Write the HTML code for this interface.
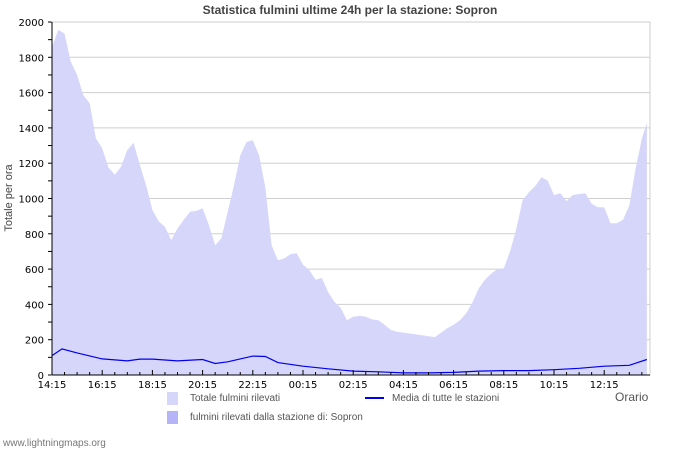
<!DOCTYPE html>
<html><head><meta charset="utf-8"><style>
body{margin:0;background:#fff;width:700px;height:450px;overflow:hidden;font-family:"Liberation Sans","DejaVu Sans",sans-serif}
</style></head><body>
<svg id="chart" width="700" height="450" xmlns="http://www.w3.org/2000/svg" font-family="DejaVu Sans, Liberation Sans, sans-serif"></svg>
<script>
const totalTimes=[0,0.25,0.5,0.75,1,1.25,1.5,1.75,2,2.25,2.5,2.75,3,3.25,3.5,3.75,4,4.25,4.5,4.75,5,5.25,5.5,5.75,6,6.25,6.5,6.75,7,7.25,7.5,7.75,8,8.25,8.5,8.75,9,9.25,9.5,9.75,10,10.25,10.5,10.75,11,11.25,11.5,11.75,12,12.25,12.5,12.75,13,13.25,13.5,13.75,14,14.25,14.5,14.75,15,15.25,15.5,15.75,16,16.25,16.5,16.75,17,17.25,17.5,17.75,18,18.25,18.5,18.75,19,19.25,19.5,19.75,20,20.25,20.5,20.75,21,21.25,21.5,21.75,22,22.25,22.5,22.75,23,23.25,23.5,23.7];
const totalValues=[1860,1955,1935,1775,1700,1585,1540,1340,1285,1175,1135,1180,1275,1315,1190,1075,935,870,840,765,830,880,925,930,945,850,735,775,925,1075,1245,1320,1330,1245,1060,735,650,660,685,690,625,595,540,550,470,415,380,310,330,335,330,315,310,285,255,245,240,235,230,225,220,215,240,265,285,310,350,410,490,540,575,600,605,700,830,990,1035,1070,1120,1100,1020,1030,985,1020,1025,1030,970,950,950,860,860,880,960,1170,1340,1430];
const avgTimes=[0,0.4,1,2,3,3.5,4,5,6,6.5,7,8,8.5,9,10,11,12,13,14,15,16,17,18,19,20,21,22,23,23.7];
const avgValues=[110,148,125,91,80,90,90,80,88,65,75,107,105,70,50,35,22,18,12,12,15,22,25,25,30,38,50,55,88];
const xLabels=["14:15","16:15","18:15","20:15","22:15","00:15","02:15","04:15","06:15","08:15","10:15","12:15"];
const yTicks=[0,200,400,600,800,1000,1200,1400,1600,1800,2000];

const svg=document.getElementById('chart');
const NS='http://www.w3.org/2000/svg';
const L=52,R=650,T=22,B=375;
const xS=t=>L+t*25.1;
const yS=v=>B-v*(B-T)/2000;
function mk(tag,attrs,parent){const e=document.createElementNS(NS,tag);for(const k in attrs)e.setAttribute(k,attrs[k]);(parent||svg).appendChild(e);return e;}

yTicks.forEach(v=>{
  const g=mk('line',{x1:L,x2:R,y1:yS(v),y2:yS(v),stroke:'#cfcfcf','stroke-width':1});
  
  
  const t=mk('text',{x:44,y:yS(v)+4,'text-anchor':'end','font-size':10,fill:'#000'});
  t.textContent=v;
  
  
  mk('line',{x1:48,x2:52,y1:yS(v),y2:yS(v),stroke:'#000'});
  if(v<2000) mk('line',{x1:48,x2:52,y1:yS(v+100),y2:yS(v+100),stroke:'#000'});
});
const frame=mk('rect',{x:L,y:T,width:R-L,height:B-T,fill:'none',stroke:'#cfcfcf'});



let d='M'+xS(totalTimes[0])+','+yS(0);
totalTimes.forEach((t,i)=>{d+=' L'+xS(t).toFixed(1)+','+yS(totalValues[i]).toFixed(1);});
d+=' L'+xS(totalTimes[totalTimes.length-1])+','+yS(0)+' Z';
const area=mk('path',{d:d,fill:'#d6d6fb'});



let d2='';
avgTimes.forEach((t,i)=>{d2+=(i?' L':'M')+xS(t).toFixed(1)+','+yS(avgValues[i]).toFixed(1);});
const line=mk('path',{d:d2,fill:'none',stroke:'#0000ee','stroke-width':1.2});



mk('line',{x1:L,x2:L,y1:T,y2:B,stroke:'#000'});
mk('line',{x1:L,x2:R,y1:B,y2:B,stroke:'#000'});
for(let h=0;h<=47;h++){
  mk('line',{x1:xS(h/2),x2:xS(h/2),y1:B,y2:B-(h%4===0?5:3),stroke:'#000'});
}
xLabels.forEach((s,i)=>{
  const t=mk('text',{x:xS(i*2),y:388,'text-anchor':'middle','font-size':10,fill:'#000'});
  t.textContent=s;
  
  
});
</script>
<div style="position:absolute;left:0;top:3px;width:700px;text-align:center;font:bold 12px 'Liberation Sans',sans-serif;color:#444">Statistica fulmini ultime 24h per la stazione: Sopron</div>
<div style="position:absolute;left:-36px;top:192px;width:90px;text-align:center;transform:rotate(-90deg);font:11px 'Liberation Sans',sans-serif;color:#444">Totale per ora</div>
<div style="position:absolute;left:615px;top:390px;font:12px 'Liberation Sans',sans-serif;color:#555">Orario</div>
<div style="position:absolute;left:167px;top:392px;font:10px 'Liberation Sans',sans-serif;color:#555"><span style="display:inline-block;width:11px;height:13px;background:#d6d6fb;vertical-align:middle;margin-right:12px"></span>Totale fulmini rilevati</div>
<div style="position:absolute;left:167px;top:411px;font:10px 'Liberation Sans',sans-serif;color:#555"><span style="display:inline-block;width:11px;height:13px;background:#b4b4f7;vertical-align:middle;margin-right:12px"></span>fulmini rilevati dalla stazione di: Sopron</div>
<div style="position:absolute;left:365px;top:393px;font:10px 'Liberation Sans',sans-serif;color:#555"><span style="display:inline-block;width:19px;height:2px;background:#0000ee;vertical-align:middle;margin-right:8px"></span>Media di tutte le stazioni</div>
<div style="position:absolute;left:3px;top:438px;font:10px 'Liberation Sans',sans-serif;color:#777">www.lightningmaps.org</div>
</body></html>
